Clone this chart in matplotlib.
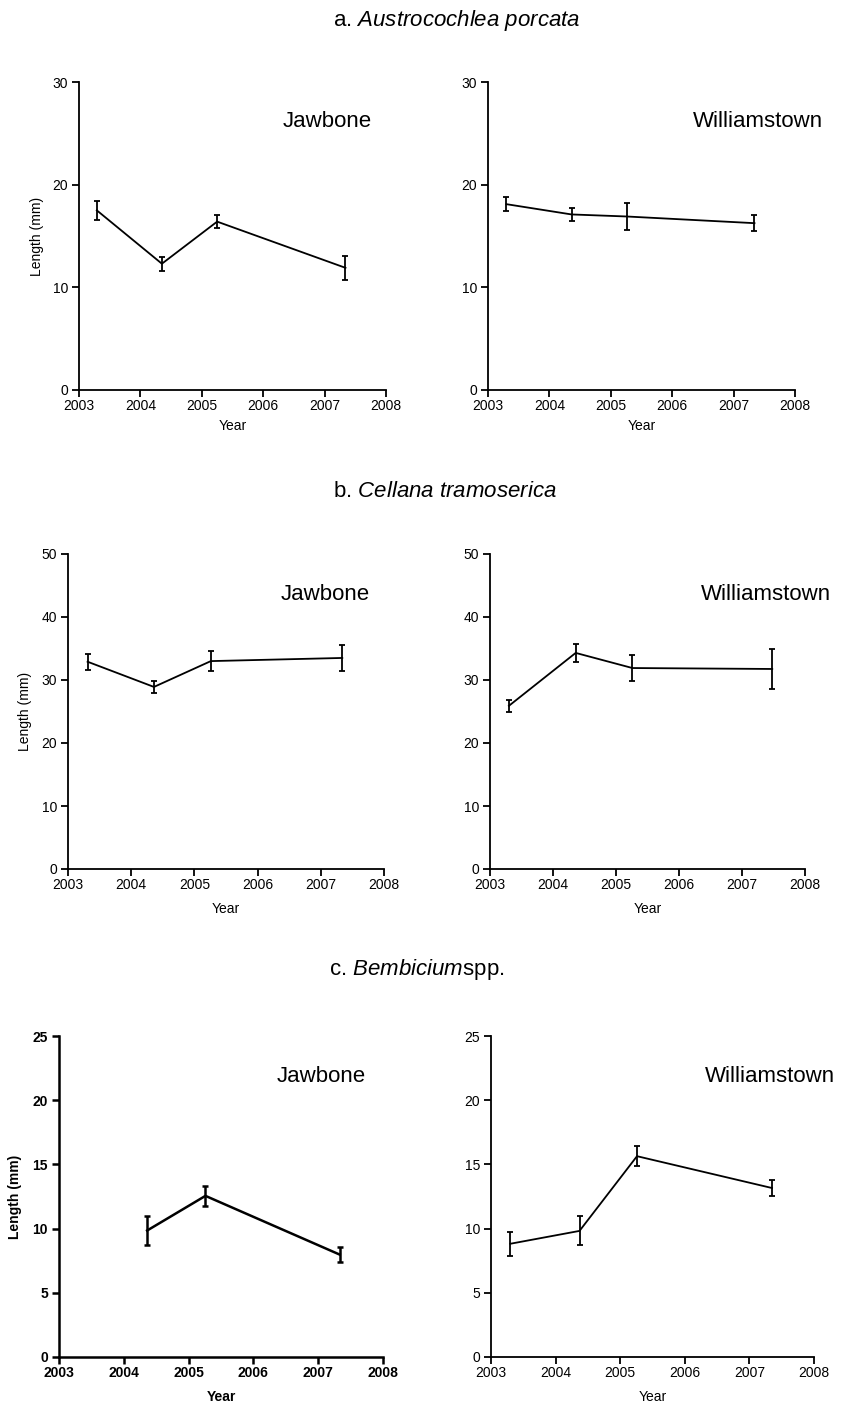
import numpy as np
import matplotlib
matplotlib.use("Agg")
import matplotlib.pyplot as plt

plt.rcParams['font.family'] = ['Liberation Sans', 'DejaVu Sans']
plt.rcParams['mathtext.fontset'] = 'custom'
plt.rcParams['mathtext.rm'] = 'Liberation Sans'
plt.rcParams['mathtext.it'] = 'Liberation Sans:italic'

# mean shell length (mm) and standard error per survey
# a. Austrocochlea porcata
aus_jaw_year = [2003.29, 2004.35, 2005.25, 2007.34]
aus_jaw_len = [17.5, 12.3, 16.4, 11.9]
aus_jaw_se = [0.9, 0.7, 0.6, 1.15]
aus_wil_year = [2003.30, 2004.36, 2005.26, 2007.34]
aus_wil_len = [18.1, 17.1, 16.9, 16.25]
aus_wil_se = [0.7, 0.65, 1.35, 0.75]

# b. Cellana tramoserica
cel_jaw_year = [2003.31, 2004.36, 2005.26, 2007.34]
cel_jaw_len = [32.9, 28.9, 33.0, 33.5]
cel_jaw_se = [1.3, 1.0, 1.55, 2.1]
cel_wil_year = [2003.30, 2004.36, 2005.26, 2007.48]
cel_wil_len = [25.9, 34.3, 31.9, 31.75]
cel_wil_se = [1.0, 1.4, 2.1, 3.2]

# c. Bembicium spp.
bem_jaw_year = [2004.36, 2005.26, 2007.33]
bem_jaw_len = [9.85, 12.55, 7.98]
bem_jaw_se = [1.13, 0.77, 0.6]
bem_wil_year = [2003.30, 2004.37, 2005.26, 2007.35]
bem_wil_len = [8.82, 9.82, 15.64, 13.16]
bem_wil_se = [0.95, 1.13, 0.78, 0.62]

years = [2003, 2004, 2005, 2006, 2007, 2008]

W, H = 845, 1402
fig = plt.figure(figsize=(W / 100, H / 100), dpi=100)


def add_panel(x0, x1, y0, y1):
    # pixel box -> figure fraction
    return fig.add_axes([x0 / W, 1 - y1 / H, (x1 - x0) / W, (y1 - y0) / H])


def draw(ax, yr, ln, se, ymax, ystep, site, site_x, ylabel=False,
         xlabel_y=-0.1, bold=False, lw=1.3):
    weight = 'bold' if bold else 'normal'
    ax.errorbar(yr, ln, yerr=se, fmt='-', color='black', lw=lw,
                elinewidth=lw, capsize=2, capthick=lw, clip_on=False)
    ax.set_xlim(2003, 2008)
    ax.set_ylim(0, ymax)
    ax.set_xticks(years)
    ax.set_yticks(np.arange(0, ymax + 1, ystep))
    for s in ['top', 'right']:
        ax.spines[s].set_visible(False)
    for s in ['left', 'bottom']:
        ax.spines[s].set_linewidth(lw)
    ax.tick_params(direction='out', length=5, width=lw, labelsize=10)
    ax.tick_params(axis='x', pad=1.5)
    ax.tick_params(axis='y', pad=3)
    for lab in ax.get_xticklabels() + ax.get_yticklabels():
        lab.set_fontweight(weight)
    ax.set_xlabel('Year', fontsize=10, fontweight=weight)
    ax.xaxis.set_label_coords(0.5, xlabel_y)
    if ylabel:
        ax.set_ylabel('Length (mm)', fontsize=10, fontweight=weight)
        ax.yaxis.set_label_coords(-0.113, 0.5)
    ax.text(site_x, 0.873, site, transform=ax.transAxes, fontsize=16,
            ha='center', va='center')


ax = add_panel(79, 386, 82, 390)
draw(ax, aus_jaw_year, aus_jaw_len, aus_jaw_se, 30, 10, 'Jawbone', 0.81,
     ylabel=True, xlabel_y=-0.095)
ax = add_panel(488, 795, 82, 390)
draw(ax, aus_wil_year, aus_wil_len, aus_wil_se, 30, 10, 'Williamstown', 0.88,
     xlabel_y=-0.095)

ax = add_panel(68, 384, 554, 869)
draw(ax, cel_jaw_year, cel_jaw_len, cel_jaw_se, 50, 10, 'Jawbone', 0.813,
     ylabel=True, xlabel_y=-0.105)
ax = add_panel(490, 805, 554, 869)
draw(ax, cel_wil_year, cel_wil_len, cel_wil_se, 50, 10, 'Williamstown', 0.876,
     xlabel_y=-0.105)

ax = add_panel(59, 383, 1036, 1357)
draw(ax, bem_jaw_year, bem_jaw_len, bem_jaw_se, 25, 5, 'Jawbone', 0.81,
     ylabel=True, xlabel_y=-0.103, bold=True, lw=1.8)
ax = add_panel(491, 814, 1036, 1357)
draw(ax, bem_wil_year, bem_wil_len, bem_wil_se, 25, 5, 'Williamstown', 0.864,
     xlabel_y=-0.103)

# species headings
fig.text(333 / W, 1 - 26 / H, r'a. $\it{Austrocochlea}$ $\it{porcata}$',
         fontsize=16, ha='left', va='baseline')
fig.text(333 / W, 1 - 497 / H, r'b. $\it{Cellana}$ $\it{tramoserica}$',
         fontsize=16, ha='left', va='baseline')
fig.text(329 / W, 1 - 975 / H, r'c. $\it{Bembicium}$spp.',
         fontsize=16, ha='left', va='baseline')

fig.savefig('out.png', dpi=100)
